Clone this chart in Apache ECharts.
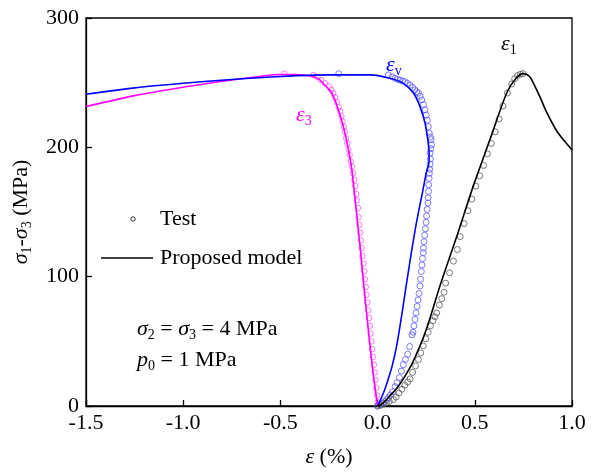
<!DOCTYPE html>
<html><head><meta charset="utf-8">
<script src="https://cdn.jsdelivr.net/npm/echarts@6/dist/echarts.min.js"></script>
<style>html,body{margin:0;padding:0;background:#fff}#c{width:599px;height:473px}</style>
</head><body><div id="c"></div>
<script>
// ---- data (strain %, deviatoric stress MPa) ----
const xTickValues = [-1.5, -1.0, -0.5, 0.0, 0.5, 1.0];
const yTickValues = [0, 100, 200, 300];

// epsilon_3 model (magenta line)
const e3ModelX = [-1.5, -1.25, -1.0, -0.75, -0.6, -0.5, -0.42, -0.36, -0.33, -0.30, -0.28, -0.258, -0.236, -0.218, -0.202, -0.188, -0.176, -0.162, -0.15, -0.133, -0.116, -0.09, -0.065, -0.04, -0.02, 0.0];
const e3ModelY = [231.5, 240, 246.5, 252, 255, 256.3, 256.3, 255.5, 254.5, 252.5, 249.5, 246, 242, 236, 229, 222.5, 216, 207, 198, 183, 160, 123, 84, 48, 22, 0];
// epsilon_3 test (magenta circles)
const e3TestX = [-0.48, -0.33, -0.31, -0.29, -0.27, -0.25, -0.238, -0.228, -0.218, -0.21, -0.2, -0.193, -0.186, -0.18, -0.174, -0.168, -0.162, -0.156, -0.15, -0.144, -0.138, -0.132, -0.126, -0.12, -0.115, -0.11, -0.106, -0.101, -0.098, -0.094, -0.090, -0.086, -0.082, -0.078, -0.073, -0.069, -0.065, -0.061, -0.057, -0.053, -0.048, -0.044, -0.040, -0.036, -0.032, -0.028, -0.023, -0.019, -0.015, -0.011, -0.007, -0.003, 0.0];
const e3TestY = [257, 256, 254.5, 252, 249.5, 247, 244.5, 242, 238.5, 235, 231, 228, 224, 220, 216, 212, 207, 203, 198.5, 194, 189, 185, 180, 175, 170, 164, 159, 153, 146, 140, 134, 128, 122, 116, 110, 104, 98, 92, 86, 80, 74, 68, 62, 56, 50, 44, 38, 32, 26, 20, 14, 8, 3];

// epsilon_v model (blue line)
const evModelX = [-1.5, -1.25, -1.0, -0.75, -0.5, -0.25, -0.04, 0.064, 0.132, 0.184, 0.218, 0.244, 0.258, 0.265, 0.264, 0.25, 0.232, 0.213, 0.193, 0.172, 0.15, 0.127, 0.098, 0.075, 0.055, 0.03, 0.0];
const evModelY = [241, 246, 249.5, 252.5, 254.8, 256, 256, 253.4, 249.5, 242, 231.5, 218.7, 206, 196, 188, 180, 166, 152, 136, 117, 96, 73, 46.5, 31, 21, 10, 0];
// epsilon_v test (blue circles)
const evTestX = [-0.2, 0.055, 0.075, 0.09, 0.103, 0.115, 0.128, 0.141, 0.154, 0.167, 0.18, 0.192, 0.201, 0.21, 0.219, 0.227, 0.236, 0.244, 0.25, 0.256, 0.261, 0.266, 0.272, 0.275, 0.277, 0.274, 0.27, 0.272, 0.27, 0.268, 0.266, 0.265, 0.263, 0.262, 0.26, 0.259, 0.255, 0.252, 0.249, 0.246, 0.242, 0.239, 0.236, 0.235, 0.231, 0.228, 0.225, 0.221, 0.218, 0.213, 0.208, 0.203, 0.198, 0.192, 0.187, 0.182, 0.177, 0.165, 0.155, 0.143, 0.132, 0.122, 0.112, 0.1, 0.09, 0.078, 0.066, 0.056, 0.047, 0.036, 0.025, 0.012, 0.0];
const evTestY = [257, 256, 254.5, 253.4, 252.5, 252, 251.3, 250.8, 249.5, 248, 246.3, 244.4, 243, 241.9, 239.5, 236.7, 233, 229, 225, 221, 216, 211, 208, 205.9, 202, 199, 195.6, 191, 187, 183, 180, 176, 171, 166, 161, 157, 152, 147, 142, 137, 132, 127, 122, 118.5, 114, 109, 104, 98, 92.8, 87, 82, 77, 72, 67, 62, 57, 55, 46, 40, 36, 32, 27, 22, 18, 15, 11, 8.5, 6.5, 5, 3.5, 2, 1, 0];

// epsilon_1 model (black line)
const e1ModelX = [0.0, 0.03, 0.064, 0.1, 0.132, 0.175, 0.218, 0.25, 0.278, 0.321, 0.407, 0.492, 0.578, 0.664, 0.71, 0.75, 0.78, 0.8, 0.835, 0.87, 0.92, 0.96, 1.0];
const e1ModelY = [0, 2.5, 8, 14, 21, 32, 46.5, 59, 72, 93, 131, 170, 206, 242, 253, 257, 255, 250, 239, 227, 213, 205, 198];
// epsilon_1 test (grey circles)
const e1TestX = [0.0, 0.015, 0.03, 0.045, 0.06, 0.081, 0.095, 0.11, 0.125, 0.14, 0.155, 0.167, 0.18, 0.195, 0.21, 0.222, 0.235, 0.248, 0.26, 0.272, 0.285, 0.295, 0.304, 0.318, 0.33, 0.342, 0.35, 0.37, 0.39, 0.41, 0.425, 0.445, 0.465, 0.485, 0.505, 0.525, 0.545, 0.565, 0.585, 0.605, 0.625, 0.645, 0.668, 0.69, 0.705, 0.72, 0.735, 0.748];
const e1TestY = [0, 0.5, 1.5, 2.5, 3.5, 5, 7, 10, 13, 16, 18.5, 21, 26, 31, 36, 41, 46.5, 52, 57, 62, 66, 69, 72, 78, 83, 88, 95, 103, 112, 121, 131, 141, 151, 160, 170, 178, 186, 195, 203, 212, 222, 232, 242, 249, 253, 255.5, 256.5, 257];

const zip = (xs, ys) => xs.map((x, i) => [x, ys[i]]);
const FONT = "'Liberation Serif', 'Times New Roman', serif";
const richBase = {
  n: { fontFamily: FONT, fontSize: 22, lineHeight: 26 },
  i: { fontFamily: FONT, fontSize: 22, lineHeight: 26, fontStyle: 'italic' },
  s: { fontFamily: FONT, fontSize: 14, lineHeight: 14, verticalAlign: 'bottom' }
};
function rich(color) {
  const r = {};
  for (const k in richBase) r[k] = Object.assign({}, richBase[k], { color: color, fill: color });
  return r;
}

const chart = echarts.init(document.getElementById('c'), null, { renderer: 'canvas' });
const lineStyleBase = { width: 1.6 };
chart.setOption({
  animation: false,
  backgroundColor: '#fff',
  grid: { left: 86, right: 27, top: 18, bottom: 66, show: true, borderColor: '#000', borderWidth: 1.3, containLabel: false },
  xAxis: {
    type: 'value', min: xTickValues[0], max: xTickValues[xTickValues.length - 1], interval: 0.5,
    axisLine: { show: true, onZero: false, lineStyle: { color: '#000', width: 1.3 } },
    axisTick: { show: true, inside: true, length: 6, lineStyle: { color: '#000', width: 1.3 } },
    splitLine: { show: false },
    axisLabel: { color: '#000', fontFamily: FONT, fontSize: 22, margin: 6, formatter: v => v.toFixed(1) },
    name: '{i|ε}{n| (%)}', nameLocation: 'middle', nameGap: 38,
    nameTextStyle: { rich: rich('#000') }
  },
  yAxis: {
    type: 'value', min: yTickValues[0], max: yTickValues[yTickValues.length - 1], interval: 100,
    axisLine: { show: true, onZero: false, lineStyle: { color: '#000', width: 1.3 } },
    axisTick: { show: true, inside: true, length: 6, lineStyle: { color: '#000', width: 1.3 } },
    splitLine: { show: false },
    axisLabel: { color: '#000', fontFamily: FONT, fontSize: 22, margin: 7 },
    name: '{i|σ}{s|1}{n|-}{i|σ}{s|3}{n| (MPa)}', nameLocation: 'middle', nameGap: 52, nameRotate: 90,
    nameTextStyle: { rich: rich('#000') }
  },
  series: [
    { type: 'scatter', data: zip(e3TestX, e3TestY), symbol: 'circle', symbolSize: 5.5,
      itemStyle: { color: 'rgba(0,0,0,0)', borderColor: '#ff55ff', borderWidth: 1 }, z: 2 },
    { type: 'scatter', data: zip(evTestX, evTestY), symbol: 'circle', symbolSize: 6,
      itemStyle: { color: 'rgba(0,0,0,0)', borderColor: '#5a5aff', borderWidth: 1 }, z: 2 },
    { type: 'scatter', data: zip(e1TestX, e1TestY), symbol: 'circle', symbolSize: 6,
      itemStyle: { color: 'rgba(0,0,0,0)', borderColor: '#5a5a5a', borderWidth: 1 }, z: 2 },
    { type: 'line', data: zip(e3ModelX, e3ModelY), showSymbol: false, smooth: 0.3,
      lineStyle: Object.assign({ color: '#ff00ff' }, lineStyleBase), z: 3 },
    { type: 'line', data: zip(evModelX, evModelY), showSymbol: false, smooth: 0.3,
      lineStyle: Object.assign({ color: '#0000ff' }, lineStyleBase), z: 3 },
    { type: 'line', data: zip(e1ModelX, e1ModelY), showSymbol: false, smooth: 0.3,
      lineStyle: Object.assign({ color: '#000000' }, lineStyleBase), z: 3 }
  ],
  graphic: [
    // legend
    { type: 'circle', shape: { cx: 133, cy: 219, r: 2.2 }, style: { fill: 'none', stroke: '#000', lineWidth: 0.8 } },
    { type: 'text', x: 160, y: 219, style: { text: 'Test', fontFamily: FONT, fontSize: 22, fill: '#000', verticalAlign: 'middle' } },
    { type: 'line', shape: { x1: 101, y1: 258, x2: 153, y2: 258 }, style: { stroke: '#000', lineWidth: 1.5 } },
    { type: 'text', x: 160, y: 258, style: { text: 'Proposed model', fontFamily: FONT, fontSize: 22, fill: '#000', verticalAlign: 'middle' } },
    // conditions
    { type: 'text', x: 137, y: 329, style: { text: '{i|σ}{s|2}{n| = }{i|σ}{s|3}{n| = 4 MPa}', rich: rich('#000'), fill: '#000', verticalAlign: 'middle' } },
    { type: 'text', x: 137, y: 360, style: { text: '{i|p}{s|0}{n| = 1 MPa}', rich: rich('#000'), fill: '#000', verticalAlign: 'middle' } },
    // curve labels
    { type: 'text', x: 296, y: 115, style: { text: '{i|ε}{s|3}', rich: rich('#ff00ff'), fill: '#ff00ff', verticalAlign: 'middle' } },
    { type: 'text', x: 386, y: 65, style: { text: '{i|ε}{s|v}', rich: rich('#0000ff'), fill: '#0000ff', verticalAlign: 'middle' } },
    { type: 'text', x: 501, y: 44, style: { text: '{i|ε}{s|1}', rich: rich('#000'), fill: '#000', verticalAlign: 'middle' } }
  ]
});
</script></body></html>
